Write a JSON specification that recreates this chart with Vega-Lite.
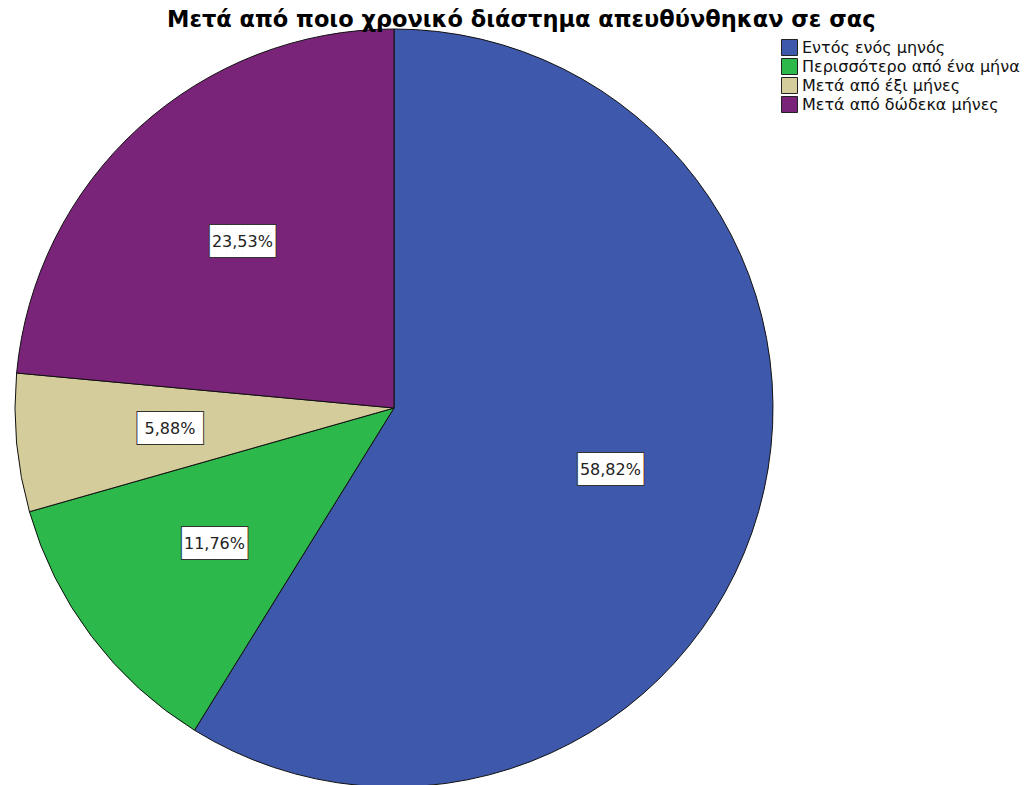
{
  "$schema": "https://vega.github.io/schema/vega-lite/v6.json",
  "width": 788,
  "height": 816,
  "autosize": {"type": "none"},
  "padding": {"left": 0, "top": 0, "right": 238, "bottom": 0},
  "background": "white",
  "title": {
    "text": "Μετά από ποιο χρονικό διάστημα απευθύνθηκαν σε σας",
    "font": "DejaVu Sans",
    "fontSize": 22.5,
    "fontWeight": "bold",
    "color": "#000000",
    "anchor": "start",
    "frame": "group",
    "orient": "top",
    "offset": 0,
    "baseline": "alphabetic",
    "dx": 167,
    "dy": 49
  },
  "data": {
    "values": [
      {"cat": "Εντός ενός μηνός", "ord": 1, "count": 10, "pct": "58,82%"},
      {"cat": "Περισσότερο από ένα μήνα", "ord": 2, "count": 2, "pct": "11,76%"},
      {"cat": "Μετά από έξι μήνες", "ord": 3, "count": 1, "pct": "5,88%"},
      {"cat": "Μετά από δώδεκα μήνες", "ord": 4, "count": 4, "pct": "23,53%"}
    ]
  },
  "encoding": {
    "theta": {"field": "count", "type": "quantitative", "stack": true},
    "order": {"field": "ord", "type": "quantitative"}
  },
  "layer": [
    {
      "mark": {"type": "arc", "outerRadius": 379, "stroke": "#111111", "strokeWidth": 1},
      "encoding": {
        "color": {
          "field": "cat",
          "type": "nominal",
          "scale": {
            "domain": ["Εντός ενός μηνός", "Περισσότερο από ένα μήνα", "Μετά από έξι μήνες", "Μετά από δώδεκα μήνες"],
            "range": ["#3e58ab", "#2db84b", "#d5cc9b", "#7a2479"]
          },
          "legend": {
            "title": null,
            "orient": "none",
            "legendX": 781,
            "legendY": 39,
            "symbolType": "square",
            "symbolSize": 256,
            "symbolStrokeColor": "#222222",
            "symbolStrokeWidth": 1,
            "labelFont": "DejaVu Sans",
            "labelFontSize": 16,
            "labelColor": "#111111",
            "labelOffset": 4,
            "labelLimit": 400,
            "rowPadding": -3
          }
        }
      }
    },
    {
      "mark": {"type": "text", "radius": 225, "text": "████", "font": "DejaVu Sans Mono", "fontSize": 27, "baseline": "middle", "align": "center", "fill": "white", "stroke": "#333333", "strokeWidth": 2},
      "encoding": {}
    },
    {
      "mark": {"type": "text", "radius": 225, "text": "████", "font": "DejaVu Sans Mono", "fontSize": 27, "baseline": "middle", "align": "center", "fill": "white"},
      "encoding": {}
    },
    {
      "mark": {"type": "text", "radius": 225, "font": "DejaVu Sans", "fontSize": 16, "color": "#222222", "baseline": "middle"},
      "encoding": {"text": {"field": "pct"}}
    }
  ]
}
